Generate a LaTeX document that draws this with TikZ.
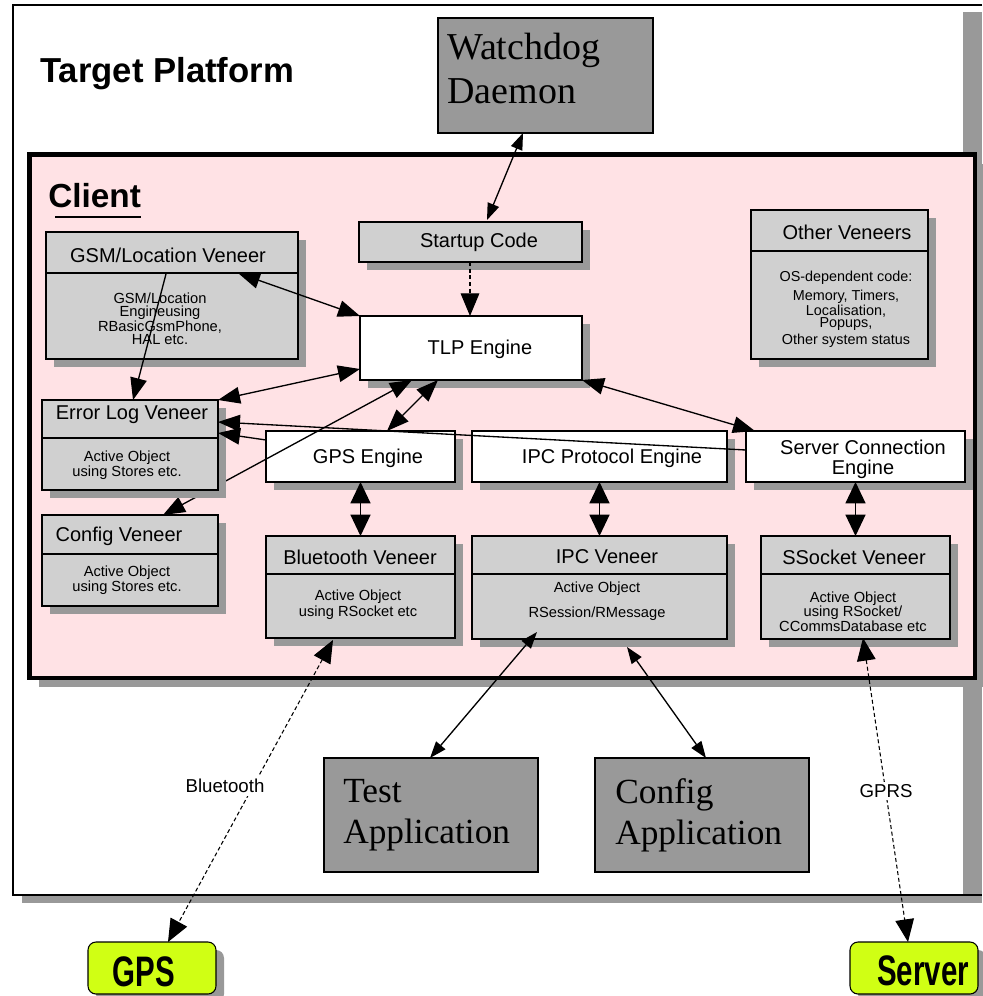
\documentclass[tikz,border=0pt]{standalone}
\usepackage{fontspec}
\setmainfont{Liberation Serif}
\setsansfont{Liberation Sans}
\usepackage{graphicx}
\usetikzlibrary{arrows.meta,shadows,calc}
\definecolor{pinkfill}{RGB}{255,226,229}
\definecolor{boxgray}{RGB}{208,208,208}
\definecolor{appgray}{RGB}{153,153,153}
\definecolor{shgray}{RGB}{153,153,153}
\definecolor{ylw}{RGB}{208,255,20}
\newcommand\mybox[6]{\node[#2, anchor=north west, minimum width={0.75pt*(#5-#3)}, minimum height={0.75pt*(#6-#4)}] (#1) at (#3,#4) {};}
\tikzset{
  bx/.style={draw=black, line width=0.8pt, inner sep=0pt, outer sep=0pt},
  shd/.style={drop shadow={opacity=1, fill=shgray, shadow xshift=6pt, shadow yshift=-6pt}},
  litebox/.style={bx, shd, fill=boxgray},
  whitebox/.style={bx, shd, fill=white},
  appbox/.style={bx, fill=appgray},
  endbox/.style={bx, shd, fill=ylw, rounded corners=6pt},
  clientbox/.style={draw=black, line width=3.5pt, inner sep=0pt, outer sep=0pt, fill=pinkfill,
     drop shadow={opacity=1, fill=shgray, shadow xshift=7pt, shadow yshift=-7pt}},
  divline/.style={line width=0.8pt},
  hdr/.style={font=\sffamily\fontsize{15}{17}\selectfont, inner sep=0pt, align=center},
  body/.style={font=\sffamily\fontsize{11}{9.75}\selectfont, align=center, inner sep=0pt},
  serifbig/.style={font=\rmfamily\fontsize{26.5}{31}\selectfont, align=left, inner sep=0pt},
  endtxt/.style={font=\sffamily\bfseries\fontsize{32}{34}\selectfont, inner sep=0pt},
  lbl/.style={fill=white, font=\sffamily\fontsize{14}{16}\selectfont, inner sep=2pt},
  conn/.style={line width=1pt},
  dconn/.style={line width=0.8pt, dash pattern=on 3pt off 2pt},
  tipL/.tip={Triangle[length=16.5pt,width=12.5pt]},
  tipW/.tip={Triangle[length=16pt,width=15pt]},
  tipS/.tip={Triangle[length=12.5pt,width=9pt]},
  tipD/.tip={Triangle[length=17pt,width=14pt]},
}
\begin{document}
\begin{tikzpicture}[x=0.75pt,y=-0.75pt]
\useasboundingbox (0,0) rectangle (982,996);
% target platform
\fill[white] (13,5) rectangle (963,895);
\fill[shgray] (963,12) rectangle (982,903);
\fill[shgray] (22,895) rectangle (982,903);
\draw[line width=0.8pt] (982,5) -- (13,5) -- (13,895) -- (982,895);
\node[anchor=base west, font=\sffamily\bfseries\fontsize{26}{30}\selectfont, inner sep=0pt] (title) at (40,82) {Target Platform};

% client
\mybox{client}{clientbox}{29.5}{154.5}{975}{678}
\node[anchor=base west, font=\sffamily\bfseries\fontsize{25}{30}\selectfont, inner sep=0pt] (clientlbl) at (48,207) {Client};
\draw[line width=1.5pt] ([xshift=5.25pt,yshift=-7.5pt]clientlbl.base west) -- ([yshift=-7.5pt]clientlbl.base east);

% watchdog
\mybox{wd}{appbox}{438}{18}{653}{133}
\node[anchor=west, font=\rmfamily\fontsize{28.5}{33}\selectfont, align=left, inner sep=0pt] (wdt) at (447,68) {Watchdog\\Daemon};

% startup / TLP
\mybox{start}{litebox}{359}{222}{582}{262}
\node[hdr] (startt) at (479,242) {Startup Code};
\mybox{tlp}{whitebox}{360}{316}{582}{380}
\node[hdr] (tlpt) at (480,349) {TLP Engine};

% GSM veneer
\mybox{gsm}{litebox}{46}{232}{298}{359}
\draw[divline] (gsm.west |- 0,273) -- (gsm.east |- 0,273);
\node[hdr] (gsmh) at (168,255) {GSM/Location Veneer};
\node[body] (gsmb) at (160,318.5) {GSM/Location\\Engineusing\\RBasicGsmPhone,\\HAL etc.};

% other veneers
\mybox{oth}{litebox}{751}{210}{928}{359}
\draw[divline] (oth.west |- 0,251) -- (oth.east |- 0,251);
\node[hdr] (othh) at (847,232) {Other Veneers};
\node[body, font=\sffamily\fontsize{10.8}{9.3}\selectfont] (othb) at (846,309) {OS-dependent code:\\[3.5pt]Memory, Timers,\\Localisation,\\Popups,\\[1.5pt]Other system status};

% config veneer
\mybox{cfg}{litebox}{42}{515}{218}{606}
\draw[divline] (cfg.west |- 0,554) -- (cfg.east |- 0,554);
\node[hdr] (cfgh) at (119,536) {Config Veneer};
\node[body] (cfgb) at (127,580.5) {Active Object\\using Stores etc.};

% engines
\mybox{gpse}{whitebox}{266}{431}{455}{482}
\node[hdr] (gpset) at (368,458) {GPS Engine};
\mybox{ipcp}{whitebox}{472}{431}{727}{482}
\node[hdr] (ipcpt) at (612,458) {IPC Protocol Engine};
\mybox{srv}{whitebox}{746}{431}{965}{482}
\node[hdr, font=\sffamily\fontsize{15}{15}\selectfont] (srvt) at (863,459) {Server Connection\\Engine};

% veneers row
\mybox{bt}{litebox}{266}{536}{455}{638}
\draw[divline] (bt.west |- 0,574) -- (bt.east |- 0,574);
\node[hdr] (bth) at (360,557) {Bluetooth Veneer};
\node[body, font=\sffamily\fontsize{11}{12}\selectfont] (btb) at (358,605) {Active Object\\using RSocket etc};
\mybox{ipcv}{litebox}{472}{536}{727}{639}
\draw[divline] (ipcv.west |- 0,574) -- (ipcv.east |- 0,574);
\node[hdr] (ipcvh) at (607,557) {IPC Veneer};
\node[body, font=\sffamily\fontsize{11}{18.75}\selectfont] (ipcvb) at (597,601.5) {Active Object\\RSession/RMessage};
\mybox{ssk}{litebox}{761}{536}{950}{639}
\draw[divline] (ssk.west |- 0,574) -- (ssk.east |- 0,574);
\node[hdr] (sskh) at (854,557) {SSocket Veneer};
\node[body, font=\sffamily\fontsize{11}{10.9}\selectfont] (sskb) at (853,611.5) {Active Object\\using RSocket/\\CCommsDatabase etc};

% connector drawn beneath the error log veneer
\coordinate (cfgTop) at ($(cfg.north west)+(121,0)$);
\coordinate (tlpB1) at ($(tlp.south west)+(52,0)$);
\draw[conn, {tipL}-{tipL}] (cfgTop) -- (tlpB1);

% error log veneer
\mybox{err}{litebox}{42}{400}{218}{490}
\draw[divline] (err.west |- 0,438) -- (err.east |- 0,438);
\node[hdr] (errh) at (132,415) {Error Log Veneer};
\node[body] (errb) at (127,465.5) {Active Object\\using Stores etc.};

% applications and end points
\mybox{tapp}{appbox}{324}{758}{538}{872}
\node[serifbig, anchor=west] (tappt) at (343,815) {Test\\Application};
\mybox{capp}{appbox}{595}{758}{809}{872}
\node[serifbig, anchor=west] (cappt) at (615,815) {Config\\Application};
\mybox{gps}{endbox}{88}{942}{216}{994}
\node[endtxt] (gpst) at (144,972) {\scalebox{0.69}[1]{GPS}};
\mybox{srvb}{endbox}{850}{942}{978}{994}
\node[endtxt] (srvbt) at (923,971) {\scalebox{0.69}[1]{Server}};

% connector end points
\coordinate (wdA) at ($(wd.south west)+(85,0)$);
\coordinate (stTop) at ($(start.north west)+(128,-2)$);
\coordinate (stBot) at ($(start.south west)+(111,0)$);
\coordinate (tlpTop) at ($(tlp.north west)+(110,0)$);
\coordinate (gsmA) at ($(gsm.north west)+(192,41)$);
\coordinate (gsmB) at ($(gsm.north west)+(120,42)$);
\coordinate (errTop) at ($(err.north west)+(91,0)$);
\coordinate (tlpL) at ($(tlp.north west)+(0,53)$);
\coordinate (tlpB2) at ($(tlp.south west)+(78,0)$);
\coordinate (gpseTop) at ($(gpse.north west)+(121,0)$);
\coordinate (srvL) at ($(srv.north west)+(0,19)$);
\coordinate (errR1) at ($(err.north east)+(0,22)$);
\coordinate (gpseL) at ($(gpse.north west)+(0,9)$);
\coordinate (errR2) at ($(err.north east)+(0,33)$);
\coordinate (srvTop) at ($(srv.north west)+(9,0)$);
\coordinate (ipcvA) at ($(ipcv.north west)+(65,96)$);
\coordinate (tappTop) at ($(tapp.north west)+(106,0)$);
\coordinate (ipcvB) at ($(ipcv.south west)+(155,8)$);
\coordinate (cappTop) at ($(capp.north west)+(111,0)$);
\coordinate (btBot) at ($(bt.south west)+(67,2)$);
\coordinate (gpsTop) at ($(gps.north west)+(80,0)$);
\coordinate (sskBot) at ($(ssk.south west)+(102,-1)$);
\coordinate (srvbTop) at ($(srvb.north west)+(58,0)$);

% connectors
\draw[conn, {tipS}-{tipS}] (wdA) -- (stTop);
\draw[dconn, -{tipD}] (stBot) -- (tlpTop);
\draw[conn, {tipL}-{tipL}] (gsmA) -- (tlp.north west);
\draw[conn, -{tipL}] (gsmB) -- (errTop);
\draw[conn, {tipL}-{tipL}] (err.north east) -- (tlpL);
\draw[conn, {tipL}-{tipL}] (gpseTop) -- (tlpB2);
\draw[conn, -{tipL}] (srvL) -- (errR1);
\draw[conn, -{tipL}] (gpseL) -- (errR2);
\draw[conn, {tipL}-{tipL}] (tlp.south east) -- (srvTop);
\draw[conn, {tipW}-{tipW}] (gpse.south) -- (bt.north);
\draw[conn, {tipW}-{tipW}] (ipcp.south) -- (ipcv.north);
\draw[conn, {tipW}-{tipW}] (srv.south) -- (ssk.north);
\draw[conn, {tipS}-{tipS}] (ipcvA) -- (tappTop);
\draw[conn, {tipS}-{tipS}] (ipcvB) -- (cappTop);
\draw[dconn, {tipD}-{tipD}] (btBot) -- (gpsTop);
\draw[dconn, {tipD}-{tipD}] (sskBot) -- (srvbTop);
\node[lbl] (btlbl) at (225,786) {Bluetooth};
\node[lbl] (gprslbl) at (886,791) {GPRS};
\end{tikzpicture}
\end{document}
